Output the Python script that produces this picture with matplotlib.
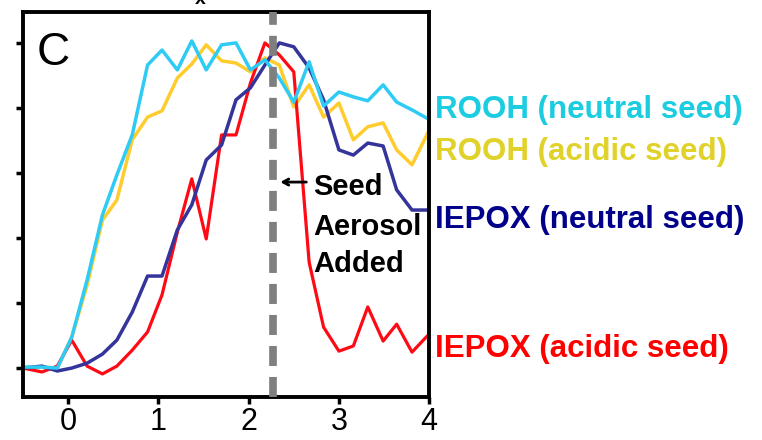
import numpy as np
import matplotlib.pyplot as plt

plt.rcParams['font.family'] = ['Liberation Sans', 'DejaVu Sans']

# time since start of experiment (h), 10-min sampling
hours = [-0.50, -0.29, -0.12, 0.04, 0.21, 0.38, 0.54, 0.71, 0.88, 1.04,
         1.21, 1.37, 1.53, 1.70, 1.86, 2.02, 2.18, 2.34, 2.50, 2.67,
         2.83, 3.00, 3.16, 3.32, 3.49, 3.64, 3.81, 3.99]

# normalised signals
rooh_neutral = [0.003, 0.003, 0.000, 0.095, 0.271, 0.471, 0.594, 0.717, 0.932, 0.978,
                0.917, 1.006, 0.917, 0.994, 1.000, 0.917, 0.948, 0.892, 0.818, 0.942,
                0.806, 0.849, 0.834, 0.822, 0.871, 0.818, 0.794, 0.766]
rooh_acidic = [0.000, 0.003, 0.000, 0.095, 0.255, 0.455, 0.517, 0.702, 0.772, 0.791,
               0.892, 0.935, 0.994, 0.945, 0.938, 0.911, 0.954, 0.932, 0.803, 0.871,
               0.772, 0.815, 0.702, 0.742, 0.754, 0.671, 0.625, 0.726]
iepox_neutral = [0.000, 0.006, -0.009, 0.000, 0.015, 0.043, 0.086, 0.172, 0.283, 0.283,
                 0.425, 0.502, 0.640, 0.686, 0.825, 0.862, 0.932, 1.000, 0.988, 0.923,
                 0.825, 0.671, 0.655, 0.692, 0.683, 0.548, 0.486, 0.486]
iepox_acidic = [0.000, -0.012, 0.006, 0.086, 0.006, -0.018, 0.006, 0.055, 0.111, 0.225,
                0.418, 0.582, 0.397, 0.717, 0.717, 0.877, 1.000, 0.963, 0.911, 0.326,
                0.126, 0.052, 0.068, 0.188, 0.083, 0.135, 0.049, 0.102]

seed_time = 2.27

labels = ['ROOH (neutral seed)', 'ROOH (acidic seed)',
          'IEPOX (neutral seed)', 'IEPOX (acidic seed)']
label_y = [0.769, 0.640, 0.431, 0.034]
label_colors = ['#1CCCE0', '#E0D22A', '#00008B', '#FF0000']

fig = plt.figure(figsize=(7.62, 4.4), dpi=100)
ax = fig.add_axes([0.0302, 0.0977, 0.533, 0.875])

ax.plot(hours, rooh_acidic, color='#FFCC2E', lw=2.5)
ax.plot(hours, iepox_acidic, color='#FF0A14', lw=2.3)
ax.plot(hours, iepox_neutral, color='#34349A', lw=2.5)
ax.plot(hours, rooh_neutral, color='#2ECBF5', lw=2.5)

ax.axvline(seed_time, color='#7F7F7F', lw=5.5, linestyle=(0, (2.62, 1.44)), zorder=5)

ax.set_xlim(-0.5, 4.0)
ax.set_ylim(-0.089, 1.095)
ax.set_xticks([0, 1, 2, 3, 4])
ax.set_yticks([0, 0.2, 0.4, 0.6, 0.8, 1.0])
ax.set_yticklabels([])
ax.tick_params(direction='out', length=5, width=2.5, labelsize=22, pad=2)
for s in ax.spines.values():
    s.set_linewidth(2.8)

ax.text(-0.35, 0.932, 'C', fontsize=33, ha='left', va='baseline')

# seed injection annotation
ax.annotate('', xy=(2.32, 0.572), xytext=(2.67, 0.572),
            arrowprops=dict(arrowstyle='->,head_length=0.4,head_width=0.22', lw=2, color='black'))
for txt, yy in zip(['Seed', 'Aerosol', 'Added'], [0.532, 0.409, 0.295]):
    ax.text(2.711, yy, txt, fontsize=21, fontweight='bold', ha='left', va='baseline')

for txt, yy, c in zip(labels, label_y, label_colors):
    ax.text(4.07, yy, txt, color=c, fontsize=22.5, fontweight='bold',
            ha='left', va='baseline', clip_on=False)

fig.text(200 / 762, 1.0, 'x', fontsize=14, fontweight='bold', ha='center', va='center')

fig.savefig('out.png', dpi=100)
